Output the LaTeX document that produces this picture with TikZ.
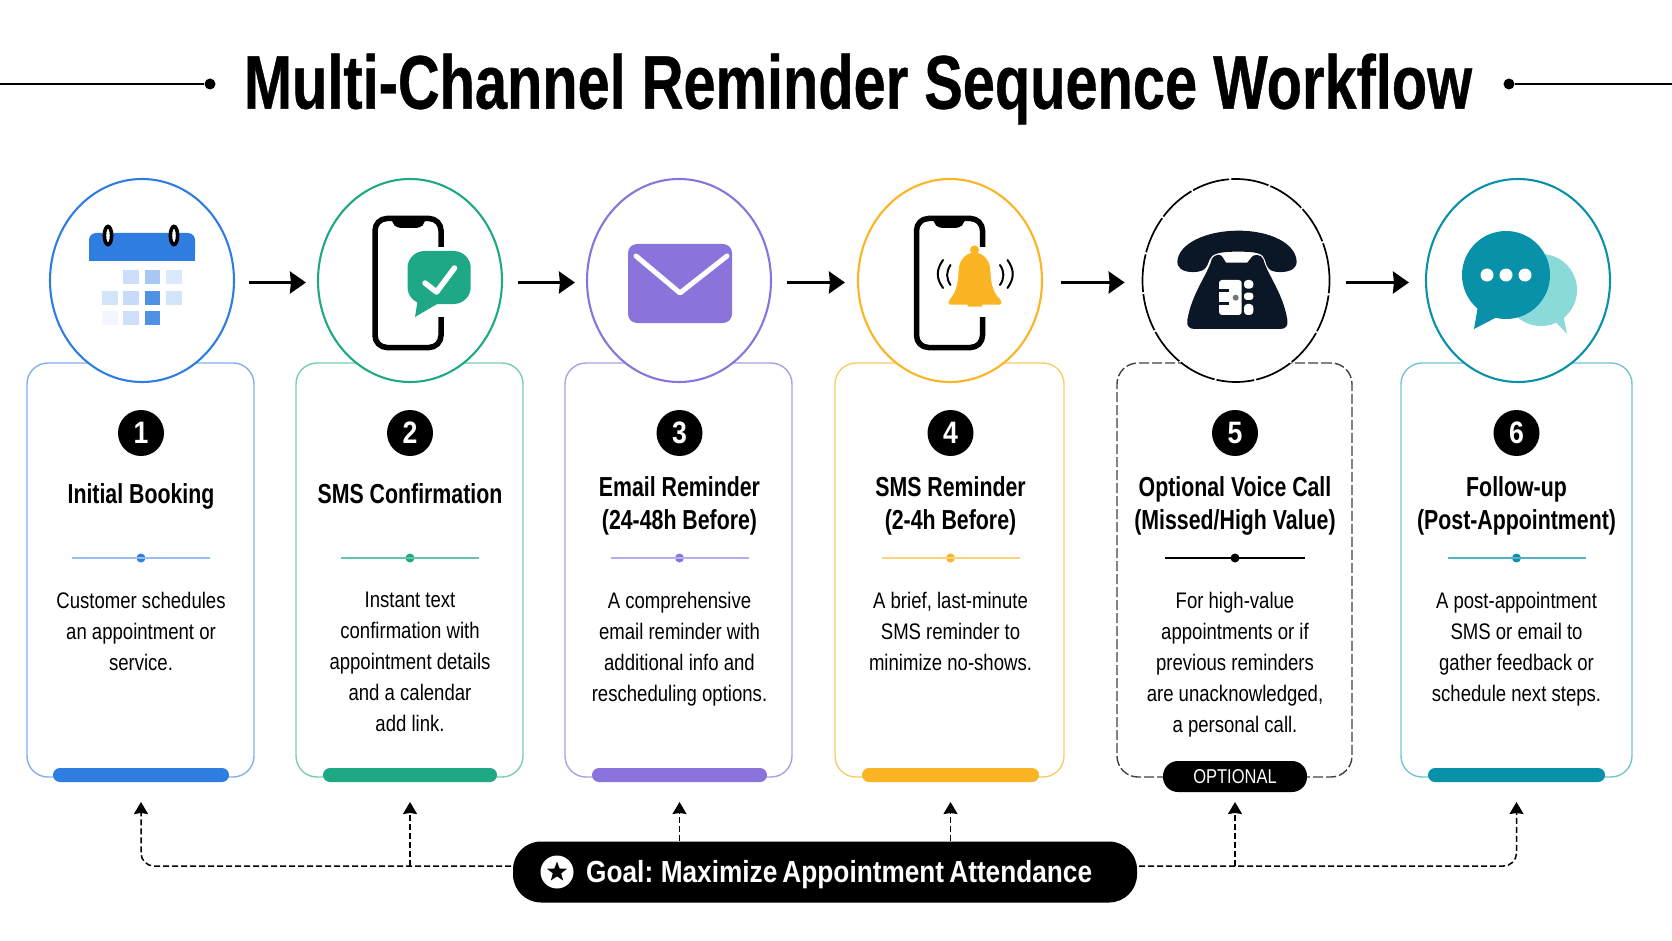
\documentclass[tikz,border=0pt]{standalone}
\usepackage{fontspec}
\setmainfont[FakeStretch=0.825]{Liberation Sans}
\newfontfamily\titlefont[FakeStretch=0.76,BoldFeatures={FakeBold=0.5}]{Liberation Sans}
\newfontfamily\headfont[FakeStretch=0.775]{Liberation Sans}
\newfontfamily\goalfont[FakeStretch=0.86,WordSpace=0.7]{Liberation Sans}
\usetikzlibrary{arrows.meta}
\usetikzlibrary{shapes}
\definecolor{cblue}{HTML}{2F7DE1}
\definecolor{cgreen}{HTML}{1FA885}
\definecolor{cpurple}{HTML}{8A74DC}
\definecolor{camber}{HTML}{FBB424}
\definecolor{cteal}{HTML}{0891A8}
\definecolor{clight}{HTML}{8ADADA}
\definecolor{cdark}{HTML}{0B1626}
\tikzset{
  card/.style={draw, rectangle, rounded corners=21pt, minimum height=414pt, inner sep=0pt, line width=1.4pt},
  iconring/.style={draw, ellipse, fill=white, minimum width=184pt, minimum height=203pt, inner sep=0pt, line width=2.1pt},
  numdot/.style={circle, fill=black, text=white, minimum size=46pt, inner sep=0pt, font=\goalfont\fontsize{31}{31}\selectfont\bfseries},
  heading/.style={align=center, inner sep=0pt, font=\headfont\fontsize{27.5}{33}\selectfont\bfseries},
  bodytext/.style={align=center, inner sep=0pt, anchor=north, font=\fontsize{22.5}{31}\selectfont},
  divdot/.style={circle, minimum size=9pt, inner sep=0pt},
  divline/.style={line width=1.4pt},
  bar/.style={rectangle, rounded corners=7pt, minimum height=14pt, inner sep=0pt},
  pill/.style={rectangle, fill=black, text=white, inner sep=0pt},
  enddot/.style={circle, fill=black, minimum size=11pt, inner sep=0pt},
  goalline/.style={draw=black, line width=1.5pt, dash pattern=on 6pt off 3pt, -{Stealth[length=12pt,width=14pt,inset=1pt]}},
}
\begin{document}
\begin{tikzpicture}[x=1pt,y=-1pt,>={Stealth[length=16pt,width=22pt,inset=1pt]},every edge/.style={draw=black,line width=3pt}]
        \useasboundingbox (0,0) rectangle (1672,941);

        % title
        \node[inner sep=0pt, font=\titlefont\fontsize{76}{76}\selectfont\bfseries] (TT) at (858,89) {Multi-Channel Reminder Sequence Workflow};
        \node[enddot] (TL) at (210,84) {};
        \node[enddot] (TR) at (1509,84) {};
        \coordinate (TLE) at (0,84);
        \coordinate (TRE) at (1672,84);
        \draw[line width=1.8pt] (TLE) -- (TL);
        \draw[line width=1.8pt] (TR) -- (TRE);

        % cards
        \node[card, draw=cblue!60, minimum width=227pt] (C1) at (140.5,570) {};
        \node[card, draw=cgreen!60, minimum width=227pt] (C2) at (409.5,570) {};
        \node[card, draw=cpurple!70, minimum width=227pt] (C3) at (678.5,570) {};
        \node[card, draw=camber!70, minimum width=229pt] (C4) at (949.5,570) {};
        \node[card, draw=black!75, dash pattern=on 10pt off 3pt, minimum width=235pt] (C5) at (1234.5,570) {};
        \node[card, draw=cteal!55, minimum width=231pt] (C6) at (1516.5,570) {};

        % bars at the bottom of the cards
        \node[bar, fill=cblue, minimum width=176pt] (R1) at (141,775) {};
        \node[bar, fill=cgreen, minimum width=174pt] (R2) at (410,775) {};
        \node[bar, fill=cpurple, minimum width=175pt] (R3) at (679.5,775) {};
        \node[bar, fill=camber, minimum width=177pt] (R4) at (950.5,775) {};
        \node[pill, rounded corners=15pt, minimum width=144pt, minimum height=31pt, font=\fontsize{20}{20}\selectfont] (R5) at (1235,776.5) {OPTIONAL};
        \node[bar, fill=cteal, minimum width=177pt] (R6) at (1516.5,775) {};

        % rings
        \node[iconring, draw=cblue] (I1) at (142,280.5) {};
        \node[iconring, draw=cgreen] (I2) at (410,280.5) {};
        \node[iconring, draw=cpurple] (I3) at (679,280.5) {};
        \node[iconring, draw=camber] (I4) at (950,280.5) {};
        \node[iconring, draw=black, line width=1.7pt, dash pattern=on 38pt off 2pt, minimum width=187pt] (I5) at (1236,280.5) {};
        \node[iconring, draw=cteal] (I6) at (1518,280.5) {};

        \path [->, shorten <=14pt, shorten >=11pt]([yshift=-2pt]I1.east) edge ([yshift=-2pt]I2.west);
        \path [->, shorten <=15pt, shorten >=11pt]([yshift=-2pt]I2.east) edge ([yshift=-2pt]I3.west);
        \path [->, shorten <=15pt, shorten >=12pt]([yshift=-2pt]I3.east) edge ([yshift=-2pt]I4.west);
        \path [->, shorten <=18pt, shorten >=17pt]([yshift=-2pt]I4.east) edge ([yshift=-2pt]I5.west);
        \path [->, shorten <=16pt, shorten >=16pt]([yshift=-2pt]I5.east) edge ([yshift=-2pt]I6.west);

        % calendar
        \fill[cblue, rounded corners=7pt] (89,261) -- (89,233) -- (195,233) -- (195,261) -- cycle;
        \fill[cblue] (89,250) rectangle (195,261);
        \draw[black, line width=3.6pt, fill=white] (108,235.5) ellipse (3.6pt and 9pt);
        \draw[black, line width=3.6pt, fill=white] (174,235.5) ellipse (3.6pt and 9pt);
        \fill[cblue!25] (123,270) rectangle +(15.5,14);
        \fill[cblue!42] (144.5,270) rectangle +(15.5,14);
        \fill[cblue!17] (166,270) rectangle +(15.5,14);
        \fill[cblue!20] (102,291) rectangle +(15.5,14);
        \fill[cblue!28] (123,291) rectangle +(15.5,14);
        \fill[cblue!85] (144.5,291) rectangle +(15.5,14);
        \fill[cblue!20] (166,291) rectangle +(15.5,14);
        \fill[cblue!6] (102,311) rectangle +(15.5,14);
        \fill[cblue!24] (123,311) rectangle +(15.5,14);
        \fill[cblue!85] (144.5,311) rectangle +(15.5,14);

        % phone with bubble
        \draw[black, line width=5.5pt, rounded corners=12pt] (375,218.5) rectangle (441,347.5);
        \fill[black, rounded corners=4pt] (392,218) -- (425,218) -- (425,223) -- (420,228) -- (397,228) -- (392,223) -- cycle;
        \fill[white] (436,247) rectangle (446,317);
        \fill[cgreen, rounded corners=17pt] (407.5,251) rectangle (470.7,304);
        \fill[cgreen] (418,298) -- (415,317) -- (438,303.5) -- cycle;
        \draw[white, line width=5.5pt, line cap=round, line join=round] (425,283) -- (436.5,292) -- (454.5,268);

        % envelope
        \fill[cpurple, rounded corners=9pt] (628,244) rectangle (732,323);
        \draw[white, line width=5pt, line cap=round, line join=round] (636,256) -- (680,293) -- (727,256);

        % phone with bell
        \draw[black, line width=5.5pt, rounded corners=12pt] (916.5,218.5) rectangle (982.5,347.5);
        \fill[black, rounded corners=4pt] (933.5,218) -- (964.5,218) -- (964.5,223) -- (959.5,228) -- (938.5,228) -- (933.5,223) -- cycle;
        \fill[white] (977,247) rectangle (988,317);
        \fill[camber] (974.5,250) circle (4.5pt);
        \fill[camber, rounded corners=1.5pt] (948.5,304.5) -- (949,300) .. controls (955,294) and (958,285) .. (958.5,272) .. controls (959,260) and (966,253) .. (974.5,253) .. controls (983,253) and (990,260) .. (990.5,272) .. controls (991,285) and (994,294) .. (1001,300) -- (1001.5,304.5) -- cycle;
        \fill[camber] (967.5,306.5) arc[start angle=180, end angle=360, x radius=7.5pt, y radius=-8.5pt] -- cycle;
        \draw[black, line width=2pt, line cap=round] (943,260) .. controls (936,270) and (936,278) .. (943,288);
        \draw[black, line width=2pt, line cap=round] (950.5,265) .. controls (946,272) and (946,278) .. (950.5,285);
        \draw[black, line width=2pt, line cap=round] (1007.5,260) .. controls (1014.5,270) and (1014.5,278) .. (1007.5,288);
        \draw[black, line width=2pt, line cap=round] (1000,265) .. controls (1004.5,272) and (1004.5,278) .. (1000,285);

        % desk telephone
        \begin{scope}[shift={(1170,220)},x=0.3333pt,y=-0.3333pt]
        \fill[cdark] (22,125) .. controls (25,70) and (110,32) .. (205,32) .. controls (300,32) and (378,70) .. (380,125) .. controls (380,150) and (350,160) .. (315,155) .. controls (295,152) and (290,140) .. (285,120) .. controls (280,100) and (260,95) .. (205,95) .. controls (150,95) and (125,100) .. (118,120) .. controls (112,140) and (105,152) .. (85,155) .. controls (50,160) and (22,150) .. (22,125) -- cycle;
        \fill[cdark] (125,118) .. controls (135,100) and (155,100) .. (160,115) -- (168,128) -- (232,128) -- (242,115) .. controls (248,100) and (275,102) .. (280,118) .. controls (290,160) and (340,220) .. (352,300) .. controls (355,320) and (345,327) .. (330,327) -- (75,327) .. controls (60,327) and (48,320) .. (52,300) .. controls (65,220) and (115,160) .. (125,118) -- cycle;
        \fill[white, rounded corners=3pt] (147,180) rectangle (215,285);
        \fill[cdark] (147,207) rectangle (178,217);
        \fill[cdark] (147,245) rectangle (178,255);
        \fill[white, rounded corners=3.5pt] (222,180) rectangle (250,206);
        \fill[white, rounded corners=3pt] (222,218) rectangle (250,240);
        \fill[white, rounded corners=3.5pt] (222,252) rectangle (250,285);
        \fill[black!55] (197,233) circle (9);
        \end{scope}

        % chat bubbles
        \fill[clight] (1541,290) circle (36pt);
        \fill[clight] (1552,318) -- (1567,334) -- (1563,314) -- cycle;
        \fill[cteal] (1506,275) circle (44pt);
        \fill[cteal] (1478,306) -- (1474,329) -- (1497,317) -- cycle;
        \fill[white] (1487,275) circle (6.5pt);
        \fill[white] (1506,275) circle (6.5pt);
        \fill[white] (1525,275) circle (6.5pt);

        % numbers
        \node[numdot] (N1) at (141,433) {1};
        \node[numdot] (N2) at (410,433) {2};
        \node[numdot] (N3) at (679.5,433) {3};
        \node[numdot] (N4) at (950.5,433) {4};
        \node[numdot] (N5) at (1235,433) {5};
        \node[numdot] (N6) at (1516.5,433) {6};

        % headings
        \node[heading] (H1) at (141,496.5) {Initial Booking};
        \node[heading] (H2) at (410,494) {SMS Confirmation};
        \node[heading] (H3) at (679.5,506) {Email Reminder\\(24-48h Before)};
        \node[heading] (H4) at (950.5,506) {SMS Reminder\\(2-4h Before)};
        \node[heading] (H5) at (1235,506) {Optional Voice Call\\(Missed/High Value)};
        \node[heading] (H6) at (1516.5,506) {Follow-up\\(Post-Appointment)};

        % dividers
        \node[divdot, fill=cblue] (D1) at (141,558) {};
        \node[divdot, fill=cgreen] (D2) at (410,558) {};
        \node[divdot, fill=cpurple] (D3) at (679.5,558) {};
        \node[divdot, fill=camber] (D4) at (950.5,558) {};
        \node[divdot, fill=black] (D5) at (1235,558) {};
        \node[divdot, fill=cteal] (D6) at (1516.5,558) {};
        \draw[divline, cblue!50] ([xshift=-69pt]D1.center) -- ([xshift=69pt]D1.center);
        \draw[divline, cgreen!70] ([xshift=-69pt]D2.center) -- ([xshift=69pt]D2.center);
        \draw[divline, cpurple!60] ([xshift=-69pt]D3.center) -- ([xshift=69pt]D3.center);
        \draw[divline, camber!60] ([xshift=-69pt]D4.center) -- ([xshift=69pt]D4.center);
        \draw[divline, black] ([xshift=-70pt]D5.center) -- ([xshift=70pt]D5.center);
        \draw[divline, cteal!70] ([xshift=-69pt]D6.center) -- ([xshift=69pt]D6.center);

        % texts
        \node[bodytext] (B1) at (141,592) {Customer schedules\\an appointment or\\service.};
        \node[bodytext] (B2) at (410,592) {Instant text\\confirmation with\\appointment details\\and a calendar\\add link.};
        \node[bodytext] (B3) at (679.5,592) {A comprehensive\\email reminder with\\additional info and\\rescheduling options.};
        \node[bodytext] (B4) at (950.5,592) {A brief, last-minute\\SMS reminder to\\minimize no-shows.};
        \node[bodytext] (B5) at (1235,592) {For high-value\\appointments or if\\previous reminders\\are unacknowledged,\\a personal call.};
        \node[bodytext] (B6) at (1516.5,592) {A post-appointment\\SMS or email to\\gather feedback or\\schedule next steps.};

        % goal
        \coordinate (GL) at (520,866);
        \coordinate (GR) at (1130,866);
        \coordinate (T1) at (141,802);
        \coordinate (T2) at (410,802);
        \coordinate (T3) at (679.5,802);
        \coordinate (T4) at (950.5,802);
        \coordinate (T5) at (1235,802);
        \coordinate (T6) at (1516.5,802);
        \draw[goalline, rounded corners=13pt] (GL) -| (T1);
        \draw[goalline, rounded corners=13pt] (GR) -| (T6);
        \draw[goalline] (T2 |- GL) -- (T2);
        \draw[goalline] (T3 |- 0,850) -- (T3);
        \draw[goalline] (T4 |- 0,850) -- (T4);
        \draw[goalline] (T5 |- GR) -- (T5);
        \node[pill, rounded corners=28pt, minimum width=624pt, minimum height=61pt] (G) at (825,872) {};
        \node[circle, fill=white, minimum size=33pt, inner sep=0pt] (GS) at (557,872) {};
        \node[star, star points=5, star point ratio=2.4, fill=black, minimum size=21pt, inner sep=0pt] (GT) at (GS) {};
        \node[inner sep=0pt, text=white, anchor=west, font=\goalfont\fontsize{30.5}{30}\selectfont\bfseries] (GX) at (586,875) {Goal: Maximize Appointment Attendance};
\end{tikzpicture}
\end{document}
